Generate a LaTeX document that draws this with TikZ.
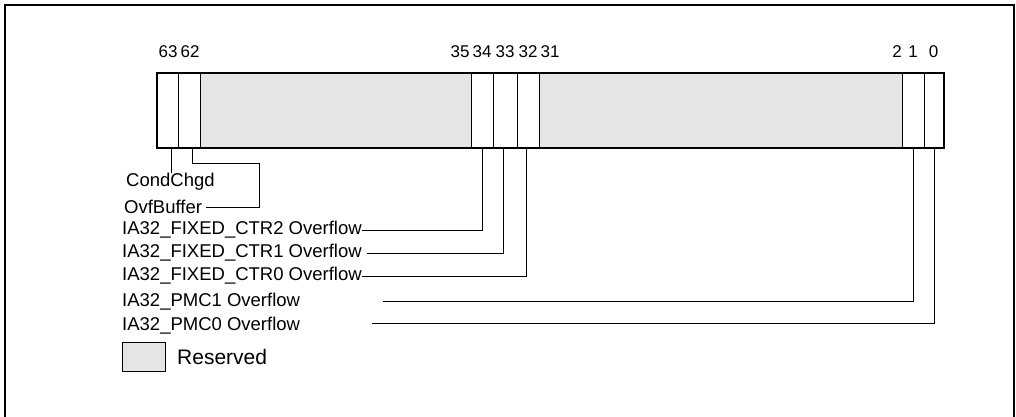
\documentclass[tikz,border=0pt]{standalone}
\usepackage{fontspec}
\setmainfont{Liberation Sans}
\begin{document}
\begin{tikzpicture}[x=1pt,y=-1pt,
  every node/.style={font=\fontsize{18.5}{20}\selectfont},
  cell/.style={draw,line width=1.1pt,minimum height=74pt,inner sep=0pt,anchor=north west},
  res/.style={cell,fill=black!10},
  lbl/.style={inner sep=0pt,anchor=west},
  bit/.style={inner sep=0pt,font=\fontsize{17}{18}\selectfont},
  conn/.style={line width=0.9pt}]
\useasboundingbox (0,0) rectangle (1016,416);
\draw[line width=2pt] (5,430) -- (5,5) -- (1014,5) -- (1014,430);
% register cells
\node[cell,minimum width=21pt] (c63) at (157,73) {};
\node[cell,minimum width=22pt] (c62) at (178,73) {};
\node[res,minimum width=271pt] (r1) at (200,73) {};
\node[cell,minimum width=22pt] (c34) at (471,73) {};
\node[cell,minimum width=24pt] (c33) at (493,73) {};
\node[cell,minimum width=22pt] (c32) at (517,73) {};
\node[res,minimum width=363pt] (r2) at (539,73) {};
\node[cell,minimum width=22pt] (c1) at (902,73) {};
\node[cell,minimum width=19pt] (c0) at (924,73) {};
\draw[line width=2.2pt] (c63.north west) rectangle (c0.south east);
% bit numbers
\node[bit] (b63) at (168,52) {63};
\node[bit] (b62) at (190,52) {62};
\node[bit] (b35) at (460,52) {35};
\node[bit] (b34) at (482,52) {34};
\node[bit] (b33) at (505,52) {33};
\node[bit] (b32) at (528,52) {32};
\node[bit] (b31) at (550,52) {31};
\node[bit] (b2) at (897,52) {2};
\node[bit] (b1) at (913,52) {1};
\node[bit] (b0) at (933.5,52) {0};
% field labels
\node[lbl] (cond) at (126,182) {CondChgd};
\node[lbl] (ovf) at (124,207) {OvfBuffer};
\node[lbl] (ctr2) at (122,230) {IA32\_FIXED\_CTR2 Overflow};
\node[lbl] (ctr1) at (122,253) {IA32\_FIXED\_CTR1 Overflow};
\node[lbl] (ctr0) at (122,276) {IA32\_FIXED\_CTR0 Overflow};
\node[lbl] (pmc1) at (122,302) {IA32\_PMC1 Overflow};
\node[lbl] (pmc0) at (122,326) {IA32\_PMC0 Overflow};
\coordinate (k62) at (259,163);
\coordinate (p1) at (383,301);
\coordinate (p0) at (372,323);
% connectors
\draw[conn] ([xshift=3pt]c63.south) -- ([xshift=3pt]c63.south |- cond.north);
\draw[conn] ([xshift=3pt]c62.south) |- (k62) |- ([xshift=4pt]ovf.east);
\draw[conn] (c34.south) |- (ctr2.east);
\draw[conn] ([xshift=-2pt]c33.south) |- ([xshift=5pt]ctr1.east);
\draw[conn] ([xshift=-2pt]c32.south) |- (ctr0.east);
\draw[conn] (c1.south) |- (p1);
\draw[conn] (c0.south) |- (p0);
% legend
\node[draw,fill=black!10,line width=0.9pt,minimum width=43pt,minimum height=29pt,inner sep=0pt,anchor=north west] (leg) at (122,342) {};
\node[lbl,font=\fontsize{21}{22}\selectfont] (legt) at (177,357) {Reserved};
\end{tikzpicture}
\end{document}
